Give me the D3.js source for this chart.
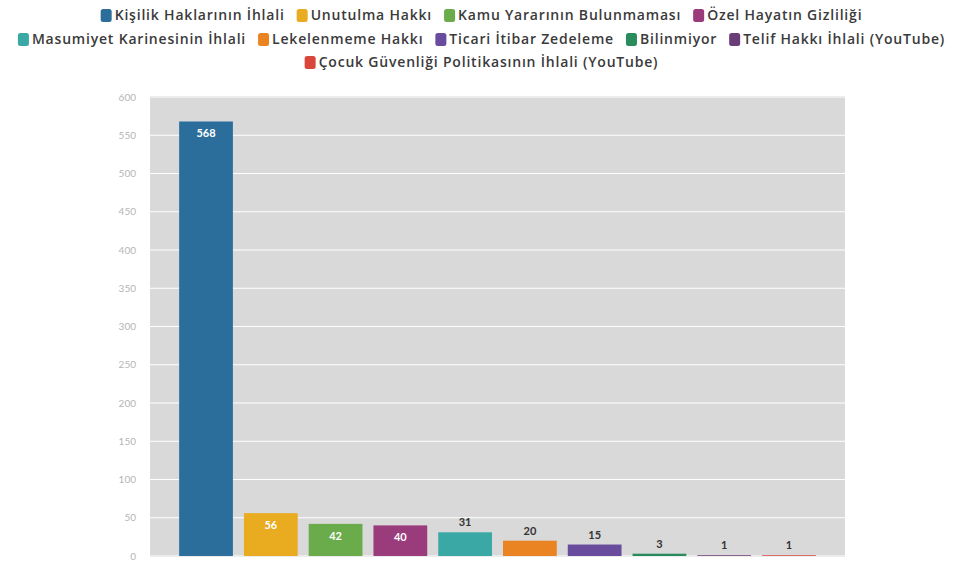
<!DOCTYPE html>
<html><head><meta charset="utf-8">
<script src="https://cdn.jsdelivr.net/npm/d3@7"></script>
<style>body{margin:0;background:#fff}svg{display:block}</style>
</head><body><svg id="c" width="963" height="569"></svg>
<script>
const categories = ["Kişilik Haklarının İhlali","Unutulma Hakkı","Kamu Yararının Bulunmaması","Özel Hayatın Gizliliği","Masumiyet Karinesinin İhlali","Lekelenmeme Hakkı","Ticari İtibar Zedeleme","Bilinmiyor","Telif Hakkı İhlali (YouTube)","Çocuk Güvenliği Politikasının İhlali (YouTube)"];
const values = [568,56,42,40,31,20,15,3,1,1];
const colors = ["#2c6e9b","#e9ab1f","#6aab4c","#9a3b7b","#3aa9a5","#ea8423","#6a4c9e","#2a8c5c","#6b3d78","#d9473b"];
const yTicks = [0,50,100,150,200,250,300,350,400,450,500,550,600];
const legendRows = [4,5,1];

const svg = d3.select("#c");
const m = {left:150, right:845, top:96, bottom:556};
const x = d3.scaleBand().domain(categories).range([m.left,m.right]).paddingInner(0.17).paddingOuter(0.45);
const y = d3.scaleLinear().domain([0,600]).range([m.bottom,m.top+1]);

svg.append("rect").attr("x",m.left).attr("y",m.top).attr("width",m.right-m.left).attr("height",m.bottom-m.top+1).attr("fill","#d9d9d9");
svg.append("g").selectAll("line").data(yTicks).join("line")
  .attr("x1",m.left).attr("x2",m.right).attr("y1",d=>y(d)).attr("y2",d=>y(d))
  .attr("stroke","#fff").attr("stroke-width",1);

const ax = svg.append("g").attr("transform",`translate(${m.left},0)`)
  .call(d3.axisLeft(y).tickValues(yTicks).tickSize(0).tickPadding(14));
ax.select(".domain").remove();
ax.selectAll("text").attr("fill","#b5b5b5").style("font-family","Lato, sans-serif").style("font-size","10px");

svg.append("g").selectAll("rect").data(values).join("rect")
  .attr("x",(d,i)=>x(categories[i])).attr("width",x.bandwidth())
  .attr("y",d=>y(d)).attr("height",d=>y(0)-y(d))
  .attr("fill",(d,i)=>colors[i]);

svg.append("g").selectAll("text").data(values).join("text")
  .attr("x",(d,i)=>x(categories[i])+x.bandwidth()/2)
  .attr("y",d=> d>=35 ? y(d)+16 : y(d)-6)
  .attr("text-anchor","middle")
  .attr("fill",d=> d>=35 ? "#fff" : "#333")
  .style("font-family","Lato, sans-serif").style("font-weight","bold").style("font-size","11px")
  .text(d=>d);

// legend
const lg = svg.append("g");
const items = categories.map((c,i)=>{
  const g = lg.append("g");
  g.append("rect").attr("width",11).attr("height",13).attr("rx",2.5).attr("fill",colors[i]).attr("y",-11);
  g.append("text").attr("x",14).attr("y",0).attr("fill","#3a3a3a")
   .style("font-family","'Open Sans', sans-serif").style("font-weight","600").style("font-size","14px")
   .style("letter-spacing","0.8px").text(c);
  const w = 14 + g.select("text").node().getComputedTextLength();
  return {g,w};
});
const gap = 12;
const rowY = [20,44,67];
let k = 0;
legendRows.forEach((n,ri)=>{
  const r = items.slice(k,k+n); k += n;
  const tw = d3.sum(r,d=>d.w) + gap*(r.length-1);
  let xx = (963 - tw)/2;
  r.forEach(it=>{ it.g.attr("transform",`translate(${xx},${rowY[ri]})`); xx += it.w + gap; });
});
</script></body></html>
